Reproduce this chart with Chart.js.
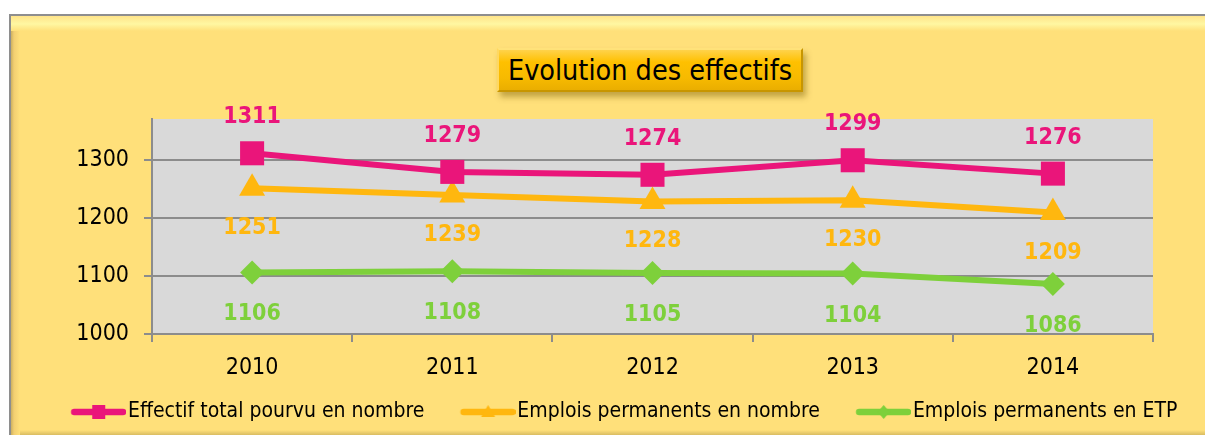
<!DOCTYPE html>
<html><head><meta charset="utf-8">
<script src="https://cdn.jsdelivr.net/npm/chart.js@4.4.1/dist/chart.umd.min.js"></script>
<style>
html,body{margin:0;padding:0;background:#fff;width:1205px;height:435px;overflow:hidden}
#frame{position:absolute;left:9px;top:14px;width:1200px;height:421px;box-sizing:border-box;
 border-top:2px solid #8E8E8E;border-left:2px solid #8E8E8E;
 background:
  linear-gradient(to bottom,#FFE48A 0px,#FFF7A2 8px,#FFE07A 15px) top left/100% 15px no-repeat,
  linear-gradient(to right,#CDB060 0px,#F2CF72 3px,#FFE07A 9px) top left/9px 100% no-repeat,
  linear-gradient(to top,#D9BC62 0px,#FFE07A 5px) bottom left/100% 5px no-repeat,
  #FFE07A;}
#title{position:absolute;left:497px;top:48px;width:306px;height:44px;box-sizing:border-box;
 font-family:"DejaVu Sans Condensed","Noto Sans",sans-serif;font-size:28.5px;color:#000;
 display:flex;align-items:center;justify-content:center;white-space:nowrap;
 background:linear-gradient(to bottom,#FFD24A 0%,#FFC000 30%,#F7BA00 70%,#EAAE00 100%);
 border:2px solid #C89600;border-top-color:#FFE27A;border-left-color:#FFD860;
 box-shadow:3px 5px 6px rgba(120,90,0,0.45);}
#wrap{position:absolute;left:0;top:0;width:1205px;height:435px}
</style></head>
<body>
<div id="frame"></div>
<div id="title">Evolution des effectifs</div>
<div id="wrap"><canvas id="c" width="1205" height="435"></canvas></div>
<script>
const years = ['2010','2011','2012','2013','2014'];
const effectifTotal = [1311,1279,1274,1299,1276];
const emploisNombre = [1251,1239,1228,1230,1209];
const emploisETP = [1106,1108,1105,1104,1086];
const yTickValues = [1000,1100,1200,1300];
const seriesNames = ['Effectif total pourvu en nombre','Emplois permanents en nombre','Emplois permanents en ETP'];

const PINK = '#EA157A', ORANGE = '#FFB70F', GREEN = '#7ED03B';
const FONT = '"DejaVu Sans Condensed","Noto Sans",sans-serif';
const LEG_FS = 21, LEG_PAD = 10, LINE_LEN = 55;
const BW = 93 - LEG_PAD - LEG_FS/2;

function legendIcon(color, style){
  const W = Math.round(BW + LEG_FS - 4);
  const H = 18;
  const c = document.createElement('canvas');
  c.width = W; c.height = H;
  const g = c.getContext('2d');
  const x1 = W - LINE_LEN, x2 = W, cx = (x1+x2)/2, cy = H/2;
  g.strokeStyle = color; g.lineWidth = 6.5; g.lineCap = 'round';
  g.beginPath(); g.moveTo(x1+3, cy); g.lineTo(x2-3, cy); g.stroke();
  g.fillStyle = color;
  g.beginPath();
  if (style === 'rect') g.rect(cx-6.5, cy-7, 13, 14);
  else if (style === 'triangle') { g.moveTo(cx, cy-7); g.lineTo(cx+7, cy+5); g.lineTo(cx-7, cy+5); g.closePath(); }
  else { g.moveTo(cx, cy-7); g.lineTo(cx+6, cy); g.lineTo(cx, cy+7); g.lineTo(cx-6, cy); g.closePath(); }
  g.fill();
  return c;
}

const plotBg = {
  id:'plotBg',
  beforeDraw(chart){
    const a = chart.chartArea, ctx = chart.ctx;
    ctx.save(); ctx.fillStyle = '#D9D9D9';
    ctx.fillRect(a.left, a.top, a.right-a.left, a.bottom-a.top);
    ctx.restore();
  }
};
const valueLabels = {
  id:'valueLabels',
  afterDatasetsDraw(chart){
    const ctx = chart.ctx;
    chart.data.datasets.forEach((ds,i)=>{
      const meta = chart.getDatasetMeta(i);
      ctx.save();
      ctx.font = 'bold 23px ' + FONT;
      ctx.fillStyle = ds.borderColor;
      ctx.textAlign = 'center'; ctx.textBaseline = 'middle';
      meta.data.forEach((pt,j)=>{
        ctx.fillText(String(ds.data[j]), pt.x, pt.y + ds.labelShift);
      });
      ctx.restore();
    });
  }
};

new Chart(document.getElementById('c'), {
  type:'line',
  data:{
    labels: years,
    datasets:[
      {label:seriesNames[0], data:effectifTotal, borderColor:PINK, backgroundColor:PINK, borderWidth:6,
       pointStyle:'rect', pointRadius:17, pointBorderWidth:0, labelShift:-36, legendIcon:legendIcon(PINK,'rect')},
      {label:seriesNames[1], data:emploisNombre, borderColor:ORANGE, backgroundColor:ORANGE, borderWidth:6,
       pointStyle:'triangle', pointRadius:15, pointBorderWidth:0, labelShift:40, legendIcon:legendIcon(ORANGE,'triangle')},
      {label:seriesNames[2], data:emploisETP, borderColor:GREEN, backgroundColor:GREEN, borderWidth:6,
       pointStyle:'rectRot', pointRadius:12, pointBorderWidth:0, labelShift:42, legendIcon:legendIcon(GREEN,'rectRot')}
    ]
  },
  options:{
    responsive:false, animation:false,
    layout:{padding:{left:35, right:0, top:119, bottom:2.5}},
    plugins:{
      title:{display:false},
      tooltip:{enabled:false},
      legend:{
        position:'bottom', align:'start',
        labels:{
          usePointStyle:true, pointStyleWidth:BW, boxHeight:LEG_FS, padding:LEG_PAD,
          color:'#000', font:{family:FONT, size:LEG_FS},
          generateLabels(chart){
            return chart.data.datasets.map((ds,i)=>({
              text: ds.label, pointStyle: ds.legendIcon, fillStyle: ds.borderColor,
              strokeStyle: ds.borderColor, lineWidth:0, hidden:false, datasetIndex:i, fontColor:'#000'
            }));
          }
        }
      }
    },
    scales:{
      x:{
        offset:true,
        grid:{offset:true, drawOnChartArea:false, color:'#8C8C8C', lineWidth:2, tickLength:8},
        border:{display:true, color:'#8C8C8C', width:2},
        ticks:{color:'#000', font:{family:FONT, size:23}, padding:12, maxRotation:0},
        afterFit(s){ s.height = 57.5; }
      },
      y:{
        min:1000, max:1370,
        afterBuildTicks(s){ s.ticks = yTickValues.map(v=>({value:v})); },
        grid:{color:'#8C8C8C', lineWidth:2, tickLength:8},
        border:{display:true, color:'#8C8C8C', width:2},
        ticks:{color:'#000', font:{family:FONT, size:23}, padding:15, callback:(v)=>String(v)},
        afterFit(s){ s.width = 117; }
      },
      ySpace:{
        type:'linear', position:'right', min:1000, max:1370,
        grid:{display:false, drawTicks:false}, border:{display:false},
        ticks:{display:false},
        afterFit(s){ s.width = 52; }
      }
    }
  },
  plugins:[plotBg, valueLabels]
});
</script>
</body></html>
